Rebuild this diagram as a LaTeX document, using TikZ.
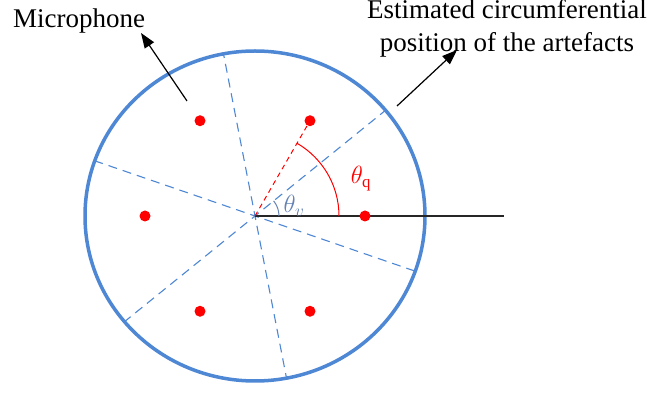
\documentclass[tikz,border=0pt]{standalone}
\usepackage{fontspec}
\setmainfont{Liberation Serif}
\usetikzlibrary{arrows.meta,calc}
\definecolor{ringblue}{RGB}{78,135,212}
\definecolor{anglegray}{RGB}{100,130,180}

\begin{document}
\begin{tikzpicture}[x=1pt,y=1pt,
    mic/.style={circle,fill=red,inner sep=0pt,minimum size=11pt},
    sector/.style={ringblue,dash pattern=on 9pt off 6pt,line width=1.1pt},
    pointer/.style={-{Triangle[length=15pt,width=11pt]},line width=1.2pt},
    notetext/.style={font=\rmfamily\fontsize{27}{33}\selectfont,inner sep=0pt},
    angletext/.style={font=\fontsize{24}{28}\selectfont,inner sep=0pt}]
    \useasboundingbox (0,0) rectangle (659,396);
    \coordinate (C) at (255,180);

    % sector boundaries
    \begin{scope}
      \clip (C) ellipse [x radius=170, y radius=165];
      \foreach \a in {39,101,161}
        \draw[sector] ($(C)+(\a:200)$) -- ($(C)+(\a+180:200)$);
    \end{scope}

    % pipe wall
    \draw[ringblue,line width=3.5pt] (C) ellipse [x radius=170, y radius=165];

    % reference axis
    \coordinate (axis) at (504,180);
    \draw[line width=1.3pt,black!85] (C) -- (axis);

    % microphones
    \foreach \i in {0,...,5}
      \node[mic] (m\i) at ($(C)+(\i*60:110)$) {};

    % angles
    \draw[red,dash pattern=on 5pt off 4pt,line width=1pt] (C) -- (m1);
    \draw[red,line width=1pt] ($(C)+(84,0)$) arc[start angle=0,end angle=60,radius=84];
    \node[angletext,text=red] (tq) at (361,217) {$\theta_{\mathrm{q}}$};
    \draw[anglegray,line width=1pt] ($(C)+(24,0)$) arc[start angle=0,end angle=39,radius=24];
    \node[angletext,text=anglegray] (tv) at (294,190) {$\theta_v$};

    % annotations
    \node[notetext] (miclabel) at (79,375) {Microphone};
    \coordinate (micfrom) at (187,295);
    \coordinate (micto) at (141,363);
    \draw[pointer] (micfrom) -- (micto);

    \node[notetext,align=center] (artlabel) at (507,368) {Estimated circumferential\\position of the artefacts};
    \coordinate (artfrom) at (397,290);
    \coordinate (artto) at (457,346);
    \draw[pointer] (artfrom) -- (artto);
\end{tikzpicture}
\end{document}
